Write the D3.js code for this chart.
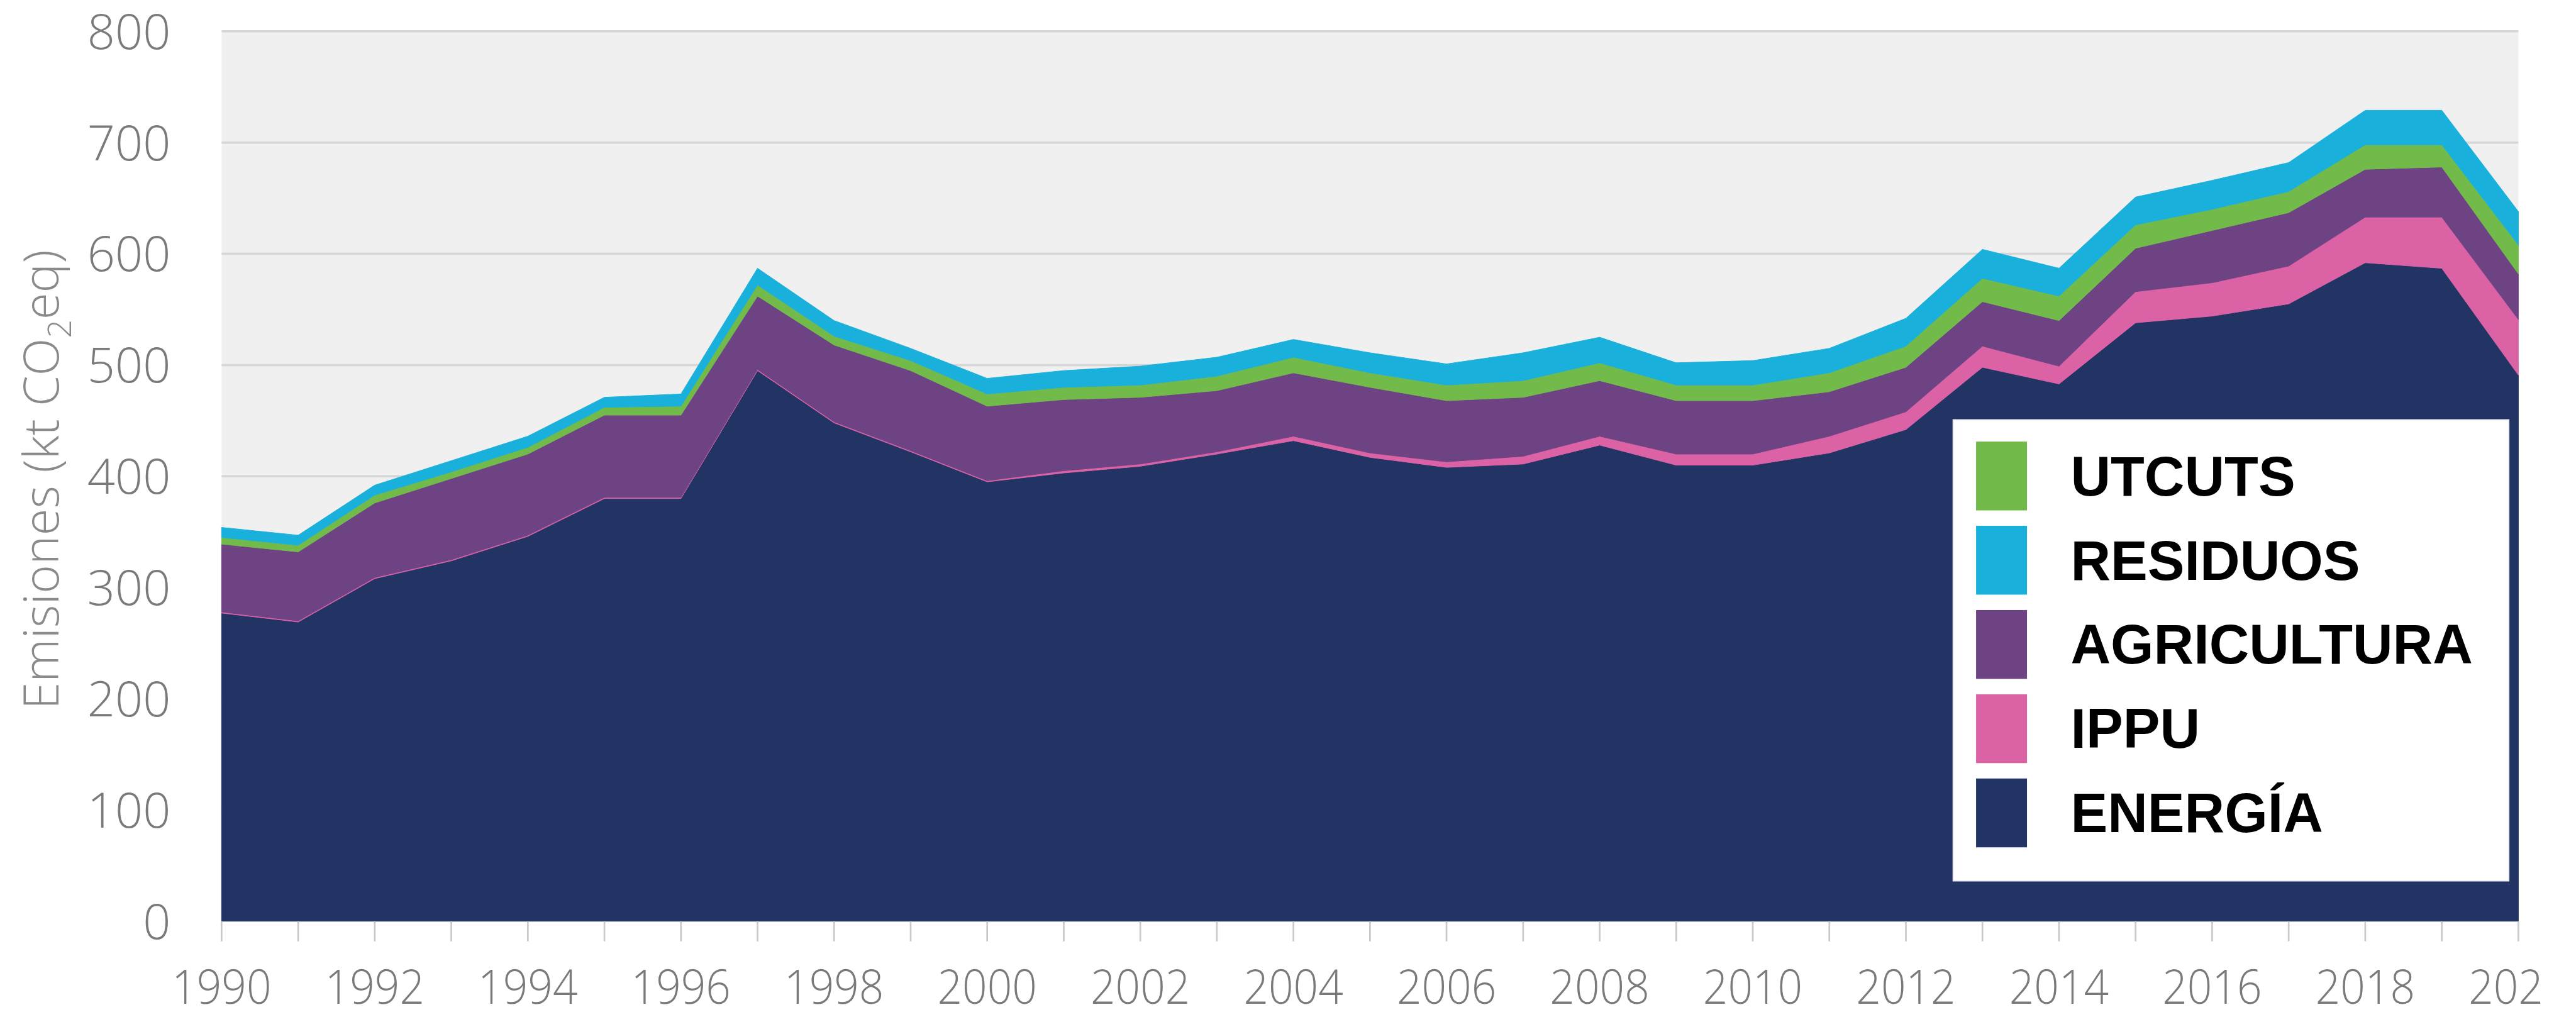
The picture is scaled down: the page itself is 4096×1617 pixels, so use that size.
<!DOCTYPE html>
<html>
<head>
<meta charset="utf-8">
<script src="https://cdn.jsdelivr.net/npm/d3@7"></script>
<style>
  html, body { margin: 0; padding: 0; background: #ffffff; }
  svg { display: block; }
</style>
</head>
<body>
<script>
// ---- Data (kt CO2eq) ----
const years = [1990,1991,1992,1993,1994,1995,1996,1997,1998,1999,2000,2001,2002,2003,2004,2005,2006,2007,2008,2009,2010,2011,2012,2013,2014,2015,2016,2017,2018,2019,2020];
const energia     = [277,269,308,324,346,380,380,495,448,422,395,403,409,420,432,417,408,411,428,410,410,421,442,498,483,538,544,555,592,587,491];
const ippu        = [1,1,1,1,1,1,1,1,1,1,1,2,2,2,4,4,5,7,8,10,10,15,16,19,16,28,30,34,41,46,50];
const agricultura = [61,62,67,73,73,74,74,66,69,72,67,64,60,55,57,59,55,53,50,48,48,40,40,40,41,39,47,48,43,45,41];
const utcuts      = [6,6,7,6,6,7,8,10,8,9,11,11,11,13,14,13,14,15,16,14,14,17,19,21,22,21,19,19,22,20,26];
const residuos    = [9,9,9,10,10,9,11,15,14,11,14,15,17,17,16,18,19,25,23,20,22,22,25,26,25,25,26,26,31,31,30];

const seriesKeys   = ["ENERGÍA","IPPU","AGRICULTURA","UTCUTS","RESIDUOS"];
const seriesColors = ["#223464","#dc62a6","#6e4384","#72bb4b","#1ab0dc"];
const legendOrder  = ["UTCUTS","RESIDUOS","AGRICULTURA","IPPU","ENERGÍA"];
const yTicks = [0,100,200,300,400,500,600,700,800];
const xTickYears = [1990,1992,1994,1996,1998,2000,2002,2004,2006,2008,2010,2012,2014,2016,2018,2020];
const yTitle = "Emisiones (kt CO";
const yTitleSub = "2";
const yTitleEnd = "eq)";

// ---- Layout (reference px scaled by k) ----
const W = 4096, H = 1617;
const k = 4096 / 4603;
const X0 = 396 * k, X1 = 4500 * k;
const Y0 = 1646 * k, Y1 = 56 * k;

const table = years.map((y, i) => ({
  year: y,
  "ENERGÍA": energia[i], "IPPU": ippu[i], "AGRICULTURA": agricultura[i],
  "UTCUTS": utcuts[i], "RESIDUOS": residuos[i]
}));

const svg = d3.select("body").append("svg").attr("width", W).attr("height", H);

const x = d3.scaleLinear().domain([1990, 2020]).range([X0, X1]);
const y = d3.scaleLinear().domain([0, 800]).range([Y0, Y1]);

// plot background
svg.append("rect").attr("x", X0).attr("y", Y1).attr("width", X1 - X0).attr("height", Y0 - Y1)
  .attr("fill", "#f0f0f0");

// gridlines
svg.append("g").selectAll("line").data(yTicks.filter(d => d > 0)).join("line")
  .attr("x1", X0).attr("x2", X1)
  .attr("y1", d => y(d)).attr("y2", d => y(d))
  .attr("stroke", "#d5d5d5").attr("stroke-width", 4 * k);

// stacked areas
const stack = d3.stack().keys(seriesKeys);
const stacked = stack(table);
const area = d3.area()
  .x(d => x(d.data.year))
  .y0(d => y(d[0]))
  .y1(d => y(d[1]));
svg.append("g").selectAll("path").data(stacked).join("path")
  .attr("d", area)
  .attr("fill", (d, i) => seriesColors[i])
  .attr("stroke", (d, i) => seriesColors[i])
  .attr("stroke-width", 1);

// x axis tick marks
svg.append("g").selectAll("line").data(years).join("line")
  .attr("x1", d => x(d)).attr("x2", d => x(d))
  .attr("y1", Y0).attr("y2", Y0 + 36 * k)
  .attr("stroke", "#c9c9c9").attr("stroke-width", 3 * k);

// x labels (clipped at the reference's right crop)
svg.append("clipPath").attr("id", "xclip").append("rect")
  .attr("x", 0).attr("y", 0).attr("width", 4547 * k).attr("height", H);
svg.append("g").attr("clip-path", "url(#xclip)")
  .selectAll("text").data(xTickYears).join("text")
  .attr("x", d => x(d)).attr("y", 1793 * k)
  .attr("text-anchor", "middle")
  .attr("font-family", "'Open Sans', sans-serif").attr("font-weight", 300)
  .attr("font-size", 85 * k)
  .attr("fill", "#7a7a7a")
  .attr("textLength", 178 * k).attr("lengthAdjust", "spacingAndGlyphs")
  .text(d => String(d));

// y labels
svg.append("g").selectAll("text").data(yTicks).join("text")
  .attr("x", 305 * k).attr("y", d => y(d))
  .attr("dy", "0.36em")
  .attr("text-anchor", "end")
  .attr("font-family", "'Open Sans', sans-serif").attr("font-weight", 300)
  .attr("font-size", 87 * k)
  .attr("fill", "#7a7a7a")
  .text(d => d);

// y title
const yt = svg.append("text")
  .attr("transform", `translate(${105 * k},${857 * k}) rotate(-90)`)
  .attr("text-anchor", "middle")
  .attr("font-family", "'Open Sans', sans-serif").attr("font-weight", 300)
  .attr("font-size", 88 * k)
  .attr("fill", "#8a8a8a");
yt.append("tspan").text(yTitle);
yt.append("tspan").attr("font-size", 58 * k).attr("dy", 22 * k).text(yTitleSub);
yt.append("tspan").attr("dy", -22 * k).text(yTitleEnd);

// legend
const lg = svg.append("g");
lg.append("rect")
  .attr("x", 3490 * k).attr("y", 750 * k)
  .attr("width", (4483 - 3490) * k).attr("height", (1574 - 750) * k)
  .attr("fill", "#ffffff").attr("stroke", "#e6e6ee").attr("stroke-width", 2 * k);
const colorOf = d3.scaleOrdinal().domain(seriesKeys).range(seriesColors);
const items = lg.selectAll("g.item").data(legendOrder).join("g").attr("class", "item")
  .attr("transform", (d, i) => `translate(0,${(789 + i * 150.5) * k})`);
items.append("rect")
  .attr("x", 3531 * k).attr("y", 0)
  .attr("width", 91 * k).attr("height", 123 * k)
  .attr("fill", d => colorOf(d));
items.append("text")
  .attr("x", 3700 * k).attr("y", 61.5 * k)
  .attr("dy", "0.35em")
  .attr("font-family", "'Liberation Sans', Arial, sans-serif").attr("font-weight", 700)
  .attr("font-size", 99 * k)
  .attr("fill", "#000000")
  .text(d => d);
</script>
</body>
</html>
